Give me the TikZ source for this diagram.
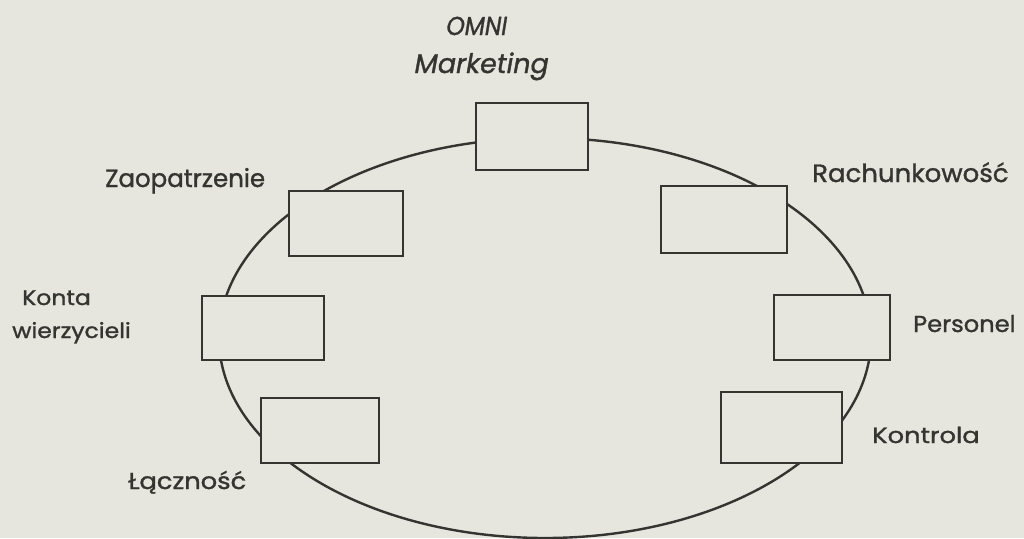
\documentclass[tikz,border=0pt]{standalone}
\usepackage{fontspec}
\setmainfont{Poppins}[FakeBold=1.2]
\newfontfamily\slantfont{Poppins}[FakeSlant=0.18,FakeBold=1.2]
\usetikzlibrary{shapes.geometric}
\definecolor{paper}{RGB}{230,230,222}
\definecolor{ink}{RGB}{52,52,48}
\tikzset{
  dept/.style={draw=ink, fill=paper, line width=2.8pt, inner sep=0pt, rectangle},
  ring/.style={draw=ink, line width=2.4pt, ellipse, inner sep=0pt},
  lbl/.style={text=ink, inner sep=0pt, anchor=base west},
}
\begin{document}
\begin{tikzpicture}[x=1pt,y=-1pt]
\fill[paper] (0,0) rectangle (1024,538);
\useasboundingbox (0,0) rectangle (1024,538);
\node[ring, minimum width=652pt, minimum height=400pt] (ring) at (545,338) {};
\node[dept, minimum width=112pt, minimum height=67pt] (mk) at (532,136.5) {};
\node[dept, minimum width=114pt, minimum height=65pt] (zp) at (346,223.5) {};
\node[dept, minimum width=126pt, minimum height=67pt] (rk) at (724,219.5) {};
\node[dept, minimum width=122pt, minimum height=64pt] (kw) at (263,328) {};
\node[dept, minimum width=118pt, minimum height=65pt] (lc) at (320,430.5) {};
\node[dept, minimum width=116pt, minimum height=65pt] (ps) at (832,327.5) {};
\node[dept, minimum width=121pt, minimum height=71pt] (kt) at (781.5,427.5) {};
\node[lbl, font=\slantfont\fontsize{26}{26}\selectfont] (tomni) at (445,35) {\scalebox{0.9}[1]{OMNI}};
\node[lbl, font=\slantfont\fontsize{27}{27}\selectfont] (tmk) at (413,73) {Marketing};
\node[lbl, font=\fontsize{25}{25}\selectfont] (tzp) at (105,187) {\scalebox{0.98}[1]{Zaopatrzenie}};
\node[lbl, font=\fontsize{25}{25}\selectfont] (trk) at (812,182) {\scalebox{1.04}[1]{Rachunkowość}};
\node[lbl, font=\fontsize{21}{21}\selectfont] (tk1) at (22,305) {\scalebox{1.12}[1]{Konta}};
\node[lbl, font=\fontsize{21}{21}\selectfont] (tk2) at (12,338) {\scalebox{1.12}[1]{wierzycieli}};
\node[lbl, font=\fontsize{23}{23}\selectfont] (tlc) at (128,489) {\scalebox{1.12}[1]{Łączność}};
\node[lbl, font=\fontsize{23}{23}\selectfont] (tps) at (913,332) {\scalebox{1.05}[1]{Personel}};
\node[lbl, font=\fontsize{22}{22}\selectfont] (tkt) at (872,443) {\scalebox{1.17}[1]{Kontrola}};
\end{tikzpicture}
\end{document}
